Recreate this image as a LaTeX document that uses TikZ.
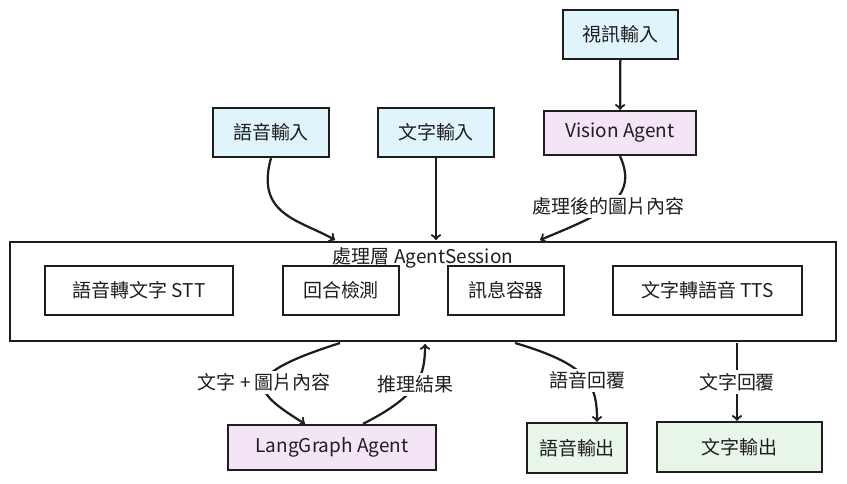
\documentclass[tikz,border=0pt]{standalone}
\usepackage{fontspec}
\setmainfont{Noto Sans CJK TC}
\usepackage{tikz}
\usetikzlibrary{positioning, arrows, calc}
\definecolor{inblue}{HTML}{E0F4FB}
\definecolor{agentpurple}{HTML}{F3E5F5}
\definecolor{outgreen}{HTML}{E8F5E9}
\definecolor{inkblack}{HTML}{1E1E1E}

\begin{document}
\begin{tikzpicture}[x=0.025cm, y=-0.025cm,
	box/.style={draw=inkblack, line width=1.6pt, minimum height=1.225cm, inner sep=2pt, text=inkblack, font=\fontsize{13.5}{16}\selectfont},
	flow/.style={->, line width=1.6pt, draw=inkblack},
	lbl/.style={fill=white, inner sep=2pt, text=inkblack, font=\fontsize{13.5}{16}\selectfont}]
				\useasboundingbox (0,0) rectangle (847,484);
				%% inputs
				\node[box, fill=inblue, minimum width=2.875cm] (vin) at (620.5,34.5) {視訊輸入};
				\node[box, fill=agentpurple, minimum width=3.8cm, minimum height=1.1cm] (va) at (620,133) {Vision Agent};
				\node[box, fill=inblue, minimum width=2.9cm] (sin) at (271,132.5) {語音輸入};
				\node[box, fill=inblue, minimum width=2.9cm] (tin) at (436,132.5) {文字輸入};
				
				%% processing layer
				\node[box, minimum width=20.65cm, minimum height=2.475cm] (proc) at (423,291.5) {};
				\node[lbl, fill=none, inner sep=0pt] (proctitle) at (423,258) {處理層 AgentSession};
				\node[box, minimum width=4.7cm] (stt) at (139,290.5) {語音轉文字 STT};
				\node[box, minimum width=2.9cm] (turn) at (341,290.5) {回合檢測};
				\node[box, minimum width=2.9cm] (msg) at (506,290.5) {訊息容器};
				\node[box, minimum width=4.725cm] (tts) at (707.5,290.5) {文字轉語音 TTS};
				
				%% outputs
				\node[box, fill=agentpurple, minimum width=5.2cm, minimum height=1.125cm] (lg) at (332,447.5) {LangGraph Agent};
				\node[box, fill=outgreen, minimum width=2.5cm, minimum height=1.25cm] (sout) at (577,448) {語音輸出};
				\node[box, fill=outgreen, minimum width=4.125cm, minimum height=1.25cm] (tout) at (739.5,447) {文字輸出};
				
				%% ends on the frame
				\coordinate (pinS) at (335,240);
				\coordinate (pinV) at (540,240);
				\coordinate (poutL) at (340,343);
				\coordinate (pinL) at (425,344);
				\coordinate (poutS) at (515,343);
				\coordinate (poutT) at (737,343);
				
				\draw[flow] (vin) -- (va);
				\draw[flow] (va.south) .. controls (640,200) and (600,215) .. node[lbl, pos=0.52] {處理後的圖片內容} (pinV);
				\draw[flow] (sin.south) .. controls (255,215) and (300,220) .. (pinS);
				\draw[flow] (tin.south) -- (tin.south |- pinS);
				\draw[flow] (poutL) .. controls (240,375) and (250,390) .. node[lbl] {文字 + 圖片內容} (lg.north -| 305,0);
				\draw[flow] (lg.north -| 363,0) .. controls (420,395) and (425,375) .. node[lbl] {推理結果} (pinL);
				\draw[flow] (poutS) .. controls (590,365) and (597,385) .. node[lbl, pos=0.55] {語音回覆} (sout.north -| 597,0);
				\draw[flow] (poutT) -- node[lbl] {文字回覆} (tout.north -| poutT);
\end{tikzpicture}
\end{document}
